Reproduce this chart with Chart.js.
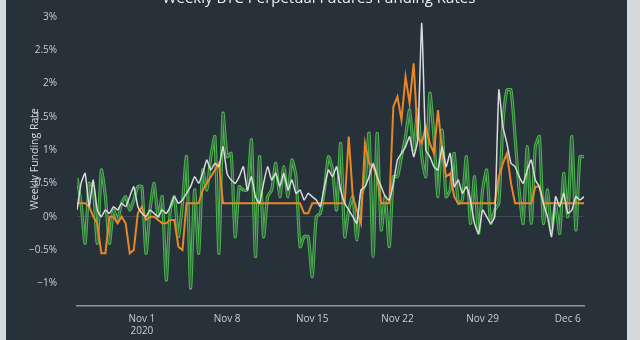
<!DOCTYPE html>
<html>
<head>
<meta charset="utf-8">
<script src="https://cdn.jsdelivr.net/npm/chart.js@4.4.1/dist/chart.umd.min.js"></script>
<style>
  html, body { margin: 0; padding: 0; width: 640px; height: 340px; overflow: hidden; background: #d6d9db; }
  #wrap { position: absolute; left: 6px; top: -14px; width: 621px; height: 354px; background: #273139; }
</style>
</head>
<body>
<div id="wrap"><canvas id="fundingChart" width="621" height="354"></canvas></div>
<script>
// funding every 8 hours, x = hours since Nov 1 2020 00:00
const startHour = -128;
const stepHours = 8;

const greenRates = [
  0.58, 0.2, -0.4, 0.5, 0.45, -0.4, 0.7, 0.3, -0.4, 0.1,
  -0.05, 0.2, 0.3, 0.1, 0.25, 0.45, 0.45, -0.55, 0.1, 0.5,
  0.0, 0.3, -0.95, 0.1, 0.3, -0.3, 0.2, 0.9, -1.07, 0.4,
  -0.55, 0.7, 0.4, 0.9, 1.2, -0.55, 1.55, 0.9, 0.95, -0.3,
  0.45, 0.4, 0.4, 1.15, -0.6, 0.9, -0.3, 0.3, 0.4, 0.8,
  0.3, 0.75, 0.3, 0.85, 0.6, -0.45, -0.3, -0.3, -0.9, 0.0,
  0.05, 0.4, 0.9, 0.7, 0.1, 1.1, -0.3, 0.1, 0.3, -0.35,
  0.3, 0.5, 1.25, -0.6, 1.25, -0.2, 0.3, -0.45, 0.6, 0.6,
  0.9, 1.2, 1.6, 1.0, 1.6, 0.9, 0.6, 1.85, 1.2, 0.3,
  1.3, 0.3, 0.4, 0.95, 0.2, 0.25, 0.9, -0.1, 0.6, -0.25,
  0.4, 0.7, -0.1, 0.1, 0.2, 1.4, 1.9, 1.9, 1.2, 0.4,
  -0.1, 1.05, -0.1, 1.05, 1.2, -0.1, 0.4, -0.2, 0.2, -0.25,
  0.65, 0.0, 1.2, -0.2, 0.9, 0.9
];

const whiteRates = [
  0.1, 0.5, 0.65, 0.15, 0.55, 0.1, 0.0, 0.1, 0.05, 0.15,
  0.1, 0.2, 0.15, 0.3, 0.45, 0.15, 0.05, 0.0, 0.1, 0.05,
  0.0, 0.1, 0.05, 0.15, 0.3, 0.2, 0.25, 0.35, 0.45, 0.6,
  0.5, 0.65, 0.85, 0.7, 0.8, 0.75, 1.05, 0.65, 0.55, 0.5,
  0.6, 0.75, 0.4, 0.6, 0.3, 0.2, 0.5, 0.75, 0.55, 0.65,
  0.45, 0.65, 0.4, 0.55, 0.35, 0.4, 0.25, 0.35, 0.3, 0.25,
  0.15, 0.45, 0.7, 0.6, 0.75, 0.4, 0.2, 0.1, 0.0, -0.1,
  0.4, 0.45, 0.6, 0.8, 0.6, 0.45, 0.3, 0.25, 0.5, 0.85,
  0.95, 1.05, 1.2, 0.9, 1.15, 2.9, 1.0, 0.9, 0.75, 0.7,
  1.05, 0.75, 0.95, 0.45, 0.55, 0.35, 0.45, 0.25, -0.1, -0.25,
  0.1, 0.0, -0.1, 0.0, 1.9, 1.35, 1.1, 0.8, 0.75, 0.6,
  0.5, 0.7, 0.85, 0.55, 0.45, 0.2, 0.0, -0.3, 0.3, 0.15,
  0.35, 0.05, 0.1, 0.3, 0.25, 0.3
];

const orangeRates = [
  0.2, 0.2, 0.2, 0.15, 0.0, -0.1, -0.55, -0.55, 0.0, 0.0,
  -0.1, 0.0, -0.1, -0.55, -0.5, 0.05, 0.15, -0.05, 0.0, 0.0,
  -0.05, -0.1, -0.1, -0.05, -0.05, -0.45, -0.5, 0.2, 0.2, 0.2,
  0.2, 0.4, 0.5, 0.6, 0.7, 0.8, 0.2, 0.2, 0.2, 0.2,
  0.2, 0.2, 0.2, 0.2, 0.2, 0.2, 0.2, 0.2, 0.2, 0.2,
  0.2, 0.2, 0.2, 0.2, 0.2, 0.2, 0.05, 0.05, 0.2, 0.2,
  0.2, 0.2, 0.2, 0.2, 0.2, 0.2, 0.2, 1.2, 0.3, 0.1,
  -0.1, 1.1, 0.8, 0.75, 0.6, 0.2, 0.2, 0.2, 1.65, 1.8,
  1.45, 2.1, 1.7, 2.3, 1.2, 1.1, 1.35, 1.1, 0.95, 1.6,
  1.0, 0.6, 0.65, 0.3, 0.2, 0.2, 0.2, 0.2, 0.2, 0.2,
  0.2, 0.2, 0.2, 0.2, 0.6, 0.8, 0.95, 0.5, 0.2, 0.2,
  0.2, 0.2, 0.2, 0.45, 0.45, 0.2, 0.2, 0.2, 0.2, 0.2,
  0.2, 0.2, 0.2, 0.2, 0.2, 0.2
];

const xTickHours = [0, 168, 336, 504, 672, 840];
const xTickLabels = [['Nov 1', '2020'], 'Nov 8', 'Nov 15', 'Nov 22', 'Nov 29', 'Dec 6'];
const yTickValues = [-1, -0.5, 0, 0.5, 1, 1.5, 2, 2.5, 3];
const yTickLabels = ['\u22121%', '\u22120.5%', '0%', '0.5%', '1%', '1.5%', '2%', '2.5%', '3%'];
const chartTitle = 'Weekly BTC Perpetual Futures Funding Rates';

const toPoints = rates => rates.map((v, i) => ({ x: startHour + i * stepHours, y: v }));

const font = 'Open Sans';

// title centred on the whole page, not on the padded layout box
const pageTitle = {
  id: 'pageTitle',
  afterDraw(chart) {
    const c = chart.ctx;
    c.save();
    c.fillStyle = '#eceeef';
    c.font = '15px "' + font + '"';
    c.textAlign = 'center';
    c.textBaseline = 'middle';
    c.fillText(chartTitle, 313, 13);
    c.restore();
  }
};

const ctx = document.getElementById('fundingChart').getContext('2d');

new Chart(ctx, {
  type: 'line',
  data: {
    datasets: [
      { label: 'white', data: toPoints(whiteRates), borderColor: '#d9dadb', borderWidth: 1.5, tension: 0.15, pointRadius: 0, order: 0 },
      { label: 'orange', data: toPoints(orangeRates), borderColor: '#e8862a', borderWidth: 2, tension: 0, pointRadius: 0, order: 1 },
      { label: 'green inner', data: toPoints(greenRates), borderColor: '#2e5a3b', borderWidth: 1, tension: 0.2, pointRadius: 0, order: 2 },
      { label: 'green', data: toPoints(greenRates), borderColor: '#4cb050', borderWidth: 3.2, tension: 0.2, pointRadius: 0, order: 3 }
    ]
  },
  options: {
    responsive: false,
    animation: false,
    devicePixelRatio: 1,
    layout: { padding: { left: 0, right: 43, top: 24, bottom: 0 } },
    plugins: {
      legend: { display: false },
      tooltip: { enabled: false },
      title: { display: false }
    },
    scales: {
      x: {
        type: 'linear',
        min: startHour,
        max: startHour + (greenRates.length - 1) * stepHours,
        border: { color: '#8c939a', width: 1.5 },
        grid: { drawOnChartArea: false, drawTicks: false },
        afterBuildTicks: axis => { axis.ticks = xTickHours.map(v => ({ value: v })); },
        afterFit: axis => { axis.height = 34; },
        ticks: {
          autoSkip: false,
          maxRotation: 0,
          padding: 7,
          color: '#c9ced2',
          font: { family: font, size: 10 },
          callback: v => xTickLabels[xTickHours.indexOf(v)]
        }
      },
      y: {
        min: -1.34,
        max: 3.07,
        border: { display: false },
        grid: {
          drawTicks: false,
          color: c => c.tick && c.tick.value === 0 ? 'rgba(255,255,255,0.12)' : 'rgba(0,0,0,0)'
        },
        afterBuildTicks: axis => { axis.ticks = yTickValues.map(v => ({ value: v })); },
        afterFit: axis => { axis.width = 71; },
        ticks: {
          padding: 20,
          color: '#c9ced2',
          font: { family: font, size: 10 },
          callback: v => yTickLabels[yTickValues.indexOf(v)]
        },
        title: {
          display: true,
          text: 'Weekly Funding Rate',
          color: '#d6dadd',
          font: { family: font, size: 10.5 },
          padding: { top: 23, bottom: 0 }
        }
      }
    }
  },
  plugins: [pageTitle]
});
</script>
</body>
</html>
